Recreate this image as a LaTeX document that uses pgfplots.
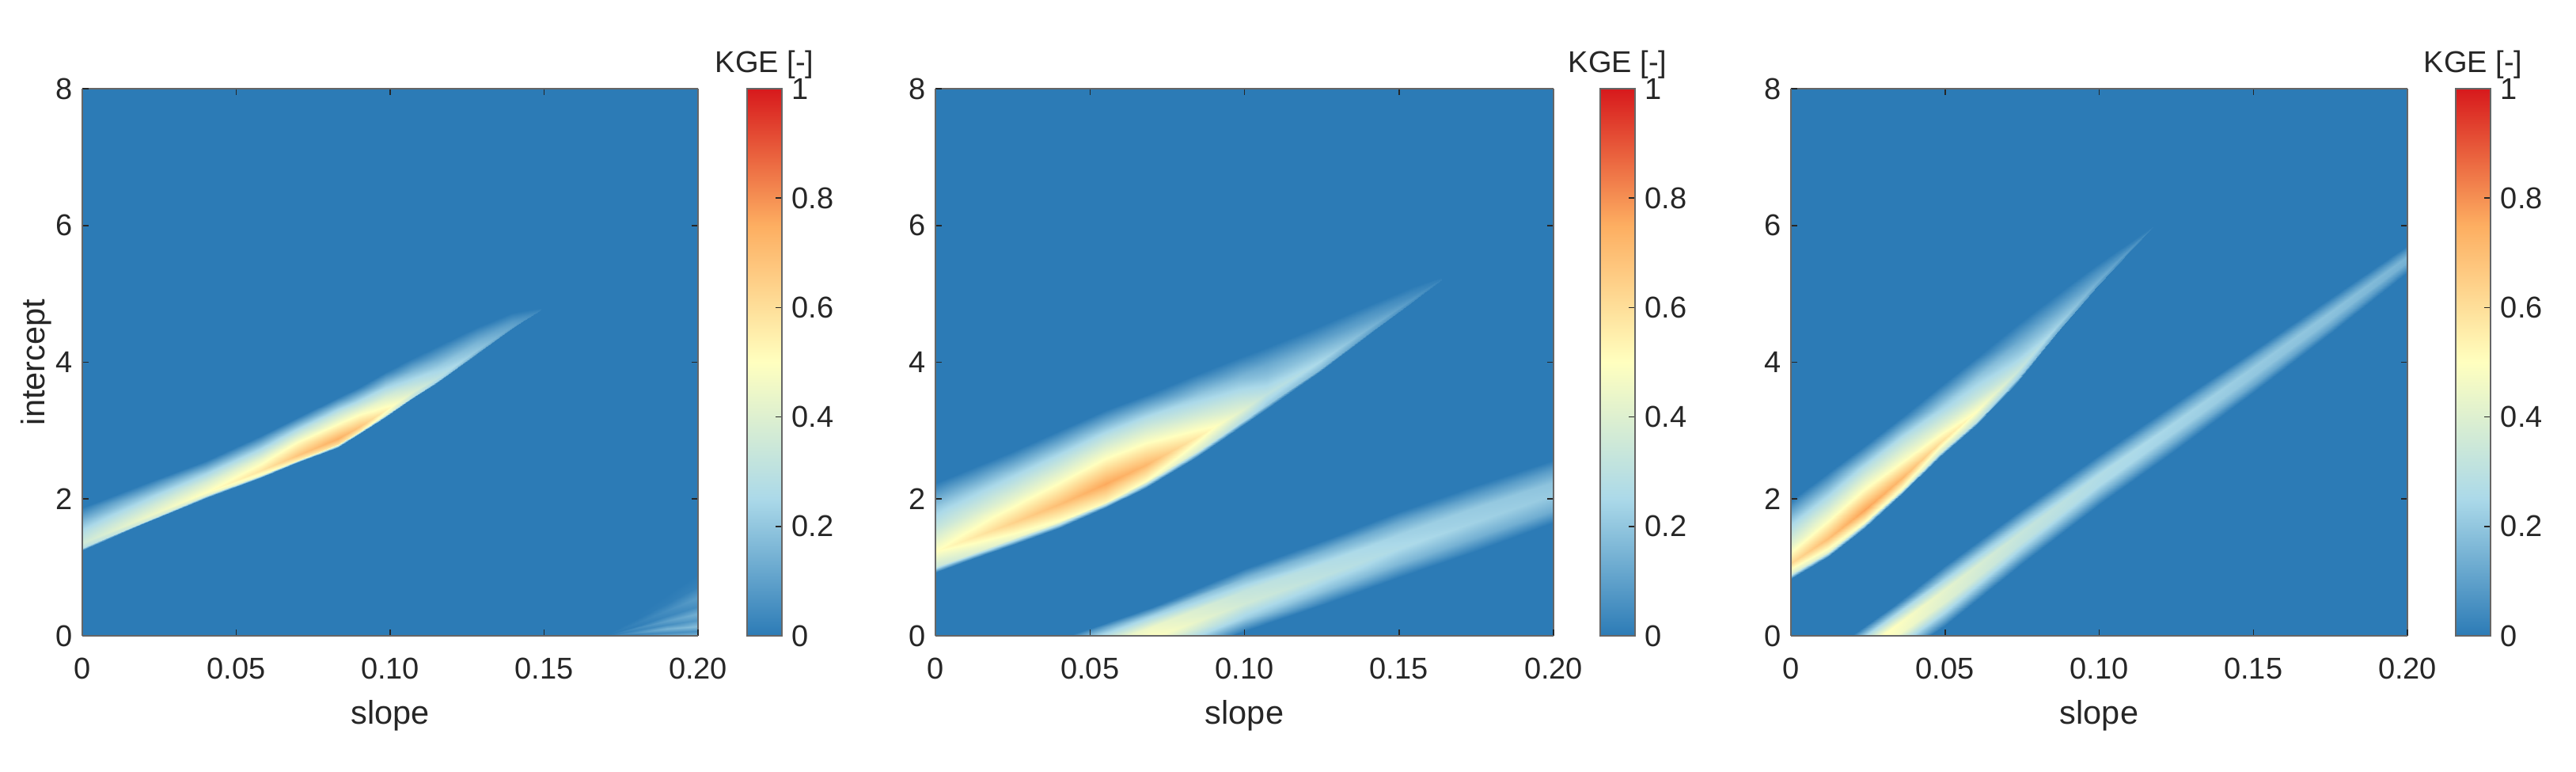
\documentclass[border=0pt]{standalone}
\usepackage{fontspec}
\setmainfont{Liberation Sans}
\usepackage{pgfplots}
\pgfplotsset{compat=1.18}
\definecolor{txt}{HTML}{262626}
\definecolor{bgblue}{HTML}{2C7BB6}

\pgfplotsset{
  panel/.style={
    scale only axis, height=138.2pt,
    view={0}{90},
    xmin=0, xmax=0.2, ymin=0, ymax=8, zmin=0, zmax=1,
    point meta min=0, point meta max=1,
    xtick={0,0.05,0.10,0.15,0.20}, xticklabels={0,0.05,0.10,0.15,0.20},
    ytick={0,2,4,6,8}, yticklabels={0,2,4,6,8},
    ztick=\empty,
    tick align=inside, major tick length=1.6pt,
    tick style={color=txt, line width=0.3pt},
    axis line style={color=black!60, line width=0.3pt},
    axis on top,
    axis background/.style={fill=bgblue},
    ticklabel style={text=txt, font=\fontsize{7.6}{9}\selectfont},
    label style={text=txt, font=\fontsize{8.3}{10}\selectfont},
    xticklabel shift=2pt, yticklabel shift=-1pt,
    xlabel={slope}, xlabel shift=-1.5pt, ylabel shift=-5.8pt,
    colormap={rdylbu}{rgb255=(44,123,182) rgb255=(171,217,233) rgb255=(255,255,191) rgb255=(253,174,97) rgb255=(215,25,28)},
    colorbar,
  },
  cbar/.style={
    colorbar style={
      at={(parent axis.south east)}, anchor=south west, xshift=#1,
      width=8.8pt, height=138.2pt,
      ytick={0,0.2,0.4,0.6,0.8,1}, yticklabels={0,0.2,0.4,0.6,0.8,1},
      ytick pos=right, yticklabel pos=right, yticklabel shift=-1pt,
      tick align=inside, major tick length=1.6pt,
      tick style={color=txt, line width=0.3pt},
      axis line style={color=black!60, line width=0.3pt},
      title={KGE [-]},
      title style={text=txt, at={(0.5,1)}, anchor=south, yshift=-4.7pt, inner sep=1pt, font=\fontsize{7.6}{9}\selectfont},
    },
  },
  band/.style={surf, shader=interp, mesh/cols=6},
}

\begin{document}
\begin{tikzpicture}
\path[use as bounding box] (0,0) rectangle (651pt,195pt);

% left panel
\begin{axis}[panel, cbar=3.9pt, at={(20.8pt,34.4pt)}, width=155.6pt, ylabel={intercept}]
\addplot3[band] coordinates {
(0,1.25,0) (0,1.28,.29) (0,1.35,.36) (0,1.53,.27) (0,1.68,.16) (0,1.88,0)
(.02,1.64,0) (.02,1.67,.35) (.02,1.73,.44) (.02,1.89,.33) (.02,2.03,.21) (.02,2.22,0)
(.04,2.02,0) (.04,2.05,.40) (.04,2.10,.50) (.04,2.25,.38) (.04,2.38,.23) (.04,2.56,0)
(.058,2.32,0) (.058,2.35,.46) (.058,2.42,.58) (.058,2.58,.44) (.058,2.73,.26) (.058,2.93,0)
(.07,2.53,0) (.07,2.57,.54) (.07,2.64,.68) (.07,2.83,.51) (.07,2.99,.31) (.07,3.20,0)
(.083,2.76,0) (.083,2.80,.59) (.083,2.88,.74) (.083,3.08,.52) (.083,3.26,.32) (.083,3.48,0)
(.09,2.95,0) (.09,2.99,.54) (.09,3.06,.68) (.09,3.25,.48) (.09,3.42,.29) (.09,3.63,0)
(.0984,3.20,0) (.0984,3.23,.43) (.0984,3.30,.54) (.0984,3.49,.39) (.0984,3.65,.23) (.0984,3.86,0)
(.107,3.46,0) (.107,3.49,.32) (.107,3.55,.40) (.107,3.71,.29) (.107,3.85,.17) (.107,4.05,0)
(.1155,3.70,0) (.1155,3.73,.24) (.1155,3.78,.30) (.1155,3.92,.22) (.1155,4.05,.13) (.1155,4.24,0)
(.1284,4.12,0) (.1284,4.14,.16) (.1284,4.18,.20) (.1284,4.29,.15) (.1284,4.39,.09) (.1284,4.52,0)
(.1395,4.49,0) (.1395,4.50,.09) (.1395,4.53,.11) (.1395,4.60,.08) (.1395,4.64,.05) (.1395,4.72,0)
(.149,4.77,0) (.149,4.77,.01) (.149,4.77,.02) (.149,4.78,.01) (.149,4.78,.01) (.149,4.79,0)
};
% speckle in the lower right corner
\addplot3[surf, shader=interp, mesh/cols=9] coordinates {
(.17,0,0) (.17,.001,0) (.17,.002,0) (.17,.003,0) (.17,.004,0) (.17,.005,0) (.17,.006,0) (.17,.007,0) (.17,.008,0)
(.18,0,.06) (.18,.02,.03) (.18,.05,.07) (.18,.08,.03) (.18,.11,.05) (.18,.14,.01) (.18,.19,.02) (.18,.24,0) (.18,.3,0)
(.19,0,.12) (.19,.05,.05) (.19,.10,.15) (.19,.16,.05) (.19,.22,.10) (.19,.29,.03) (.19,.37,.05) (.19,.48,.01) (.19,.6,0)
(.2,0,.16) (.2,.07,.06) (.2,.14,.18) (.2,.23,.08) (.2,.32,.14) (.2,.43,.05) (.2,.56,.09) (.2,.72,.02) (.2,.9,0)
};
\end{axis}

% middle panel
\begin{axis}[panel, cbar=3.3pt, at={(236.4pt,34.4pt)}, width=156.2pt]
\addplot3[band] coordinates {
(0,.93,0) (0,1.01,.34) (0,1.24,.50) (0,1.58,.33) (0,1.89,.20) (0,2.23,0)
(.0125,1.13,0) (.0125,1.22,.39) (.0125,1.45,.57) (.0125,1.80,.38) (.0125,2.12,.22) (.0125,2.47,0)
(.025,1.33,0) (.025,1.42,.44) (.025,1.66,.64) (.025,2.02,.42) (.025,2.35,.24) (.025,2.70,0)
(.04,1.58,0) (.04,1.67,.48) (.04,1.92,.70) (.04,2.29,.46) (.04,2.64,.26) (.04,3.00,0)
(.055,1.87,0) (.055,1.96,.52) (.055,2.22,.76) (.055,2.59,.50) (.055,2.93,.29) (.055,3.30,0)
(.068,2.17,0) (.068,2.26,.49) (.068,2.50,.72) (.068,2.85,.48) (.068,3.17,.28) (.068,3.52,0)
(.085,2.63,0) (.085,2.71,.38) (.085,2.92,.56) (.085,3.22,.37) (.085,3.51,.21) (.085,3.83,0)
(.098,3.03,0) (.098,3.10,.29) (.098,3.27,.42) (.098,3.54,.28) (.098,3.78,.16) (.098,4.06,0)
(.107,3.31,0) (.107,3.37,.21) (.107,3.53,.31) (.107,3.76,.20) (.107,3.97,.12) (.107,4.22,0)
(.1241,3.85,0) (.1241,3.89,.17) (.1241,4.01,.25) (.1241,4.18,.17) (.1241,4.34,.09) (.1241,4.53,0)
(.1412,4.43,0) (.1412,4.46,.10) (.1412,4.53,.15) (.1412,4.63,.10) (.1412,4.73,.06) (.1412,4.85,0)
(.1539,4.86,0) (.1539,4.87,.05) (.1539,4.91,.08) (.1539,4.97,.05) (.1539,5.02,.03) (.1539,5.09,0)
(.1638,5.21,0) (.1638,5.21,.01) (.1638,5.22,.02) (.1638,5.22,.01) (.1638,5.23,.01) (.1638,5.23,0)
};
\addplot3[band] coordinates {
(.04,-.85,0) (.04,-.69,.27) (.04,-.49,.45) (.04,-.33,.41) (.04,-.17,.20) (.04,-.05,0)
(.07,-.40,0) (.07,-.24,.30) (.07,-.03,.50) (.07,.13,.45) (.07,.30,.22) (.07,.42,0)
(.1,.07,0) (.1,.25,.22) (.1,.48,.36) (.1,.66,.32) (.1,.84,.16) (.1,.98,0)
(.128,.50,0) (.128,.69,.18) (.128,.92,.30) (.128,1.10,.27) (.128,1.29,.14) (.128,1.43,0)
(.15,.86,0) (.15,1.05,.16) (.15,1.29,.26) (.15,1.48,.23) (.15,1.67,.12) (.15,1.82,0)
(.175,1.24,0) (.175,1.44,.14) (.175,1.67,.23) (.175,1.87,.21) (.175,2.05,.10) (.175,2.20,0)
(.2,1.65,0) (.2,1.83,.13) (.2,2.06,.21) (.2,2.25,.19) (.2,2.43,.09) (.2,2.57,0)
};
\end{axis}

% right panel
\begin{axis}[panel, cbar=3.7pt, at={(452.6pt,34.4pt)}, width=155.8pt]
\addplot3[band] coordinates {
(0,.83,0) (0,.90,.38) (0,1.07,.62) (0,1.32,.42) (0,1.65,.23) (0,1.98,0)
(.012,1.16,0) (.012,1.23,.43) (.012,1.42,.70) (.012,1.70,.48) (.012,2.04,.26) (.012,2.38,0)
(.024,1.58,0) (.024,1.65,.48) (.024,1.84,.77) (.024,2.12,.52) (.024,2.46,.29) (.024,2.78,0)
(.036,2.07,0) (.036,2.13,.45) (.036,2.30,.72) (.036,2.55,.49) (.036,2.88,.28) (.036,3.20,0)
(.048,2.60,0) (.048,2.66,.37) (.048,2.81,.60) (.048,3.03,.41) (.048,3.31,.23) (.048,3.63,0)
(.06,3.08,0) (.06,3.13,.31) (.06,3.28,.50) (.06,3.49,.34) (.06,3.76,.20) (.06,4.06,0)
(.0737,3.72,0) (.0737,3.76,.21) (.0737,3.88,.34) (.0737,4.07,.23) (.0737,4.30,.13) (.0737,4.56,0)
(.0865,4.43,0) (.0865,4.46,.14) (.0865,4.54,.23) (.0865,4.68,.16) (.0865,4.82,.09) (.0865,5.00,0)
(.0994,5.10,0) (.0994,5.12,.09) (.0994,5.17,.14) (.0994,5.25,.10) (.0994,5.33,.06) (.0994,5.43,0)
(.11,5.62,0) (.11,5.63,.05) (.11,5.65,.08) (.11,5.68,.05) (.11,5.71,.03) (.11,5.75,0)
(.1175,5.98,0) (.1175,5.98,.01) (.1175,5.98,.02) (.1175,5.99,.01) (.1175,5.99,.01) (.1175,6.00,0)
};
\addplot3[band] coordinates {
(.0195,-.80,0) (.0195,-.64,.29) (.0195,-.48,.49) (.0195,-.32,.52) (.0195,-.16,.29) (.0195,0,0)
(.0325,-.36,0) (.0325,-.20,.28) (.0325,-.05,.48) (.0325,.11,.50) (.0325,.26,.28) (.0325,.42,0)
(.05,.15,0) (.05,.33,.23) (.05,.50,.40) (.05,.68,.42) (.05,.85,.23) (.05,1.03,0)
(.075,1.05,0) (.075,1.21,.18) (.075,1.37,.31) (.075,1.53,.33) (.075,1.69,.18) (.075,1.85,0)
(.1,1.92,0) (.1,2.07,.15) (.1,2.21,.26) (.1,2.36,.27) (.1,2.50,.15) (.1,2.65,0)
(.125,2.72,0) (.125,2.86,.13) (.125,3.00,.23) (.125,3.14,.24) (.125,3.28,.13) (.125,3.42,0)
(.15,3.55,0) (.15,3.67,.12) (.15,3.80,.20) (.15,3.92,.21) (.15,4.05,.12) (.15,4.17,0)
(.175,4.42,0) (.175,4.52,.10) (.175,4.63,.18) (.175,4.73,.19) (.175,4.84,.10) (.175,4.94,0)
(.2,5.31,0) (.2,5.39,.08) (.2,5.47,.14) (.2,5.55,.15) (.2,5.63,.08) (.2,5.71,0)
};
\end{axis}
\end{tikzpicture}
\end{document}
